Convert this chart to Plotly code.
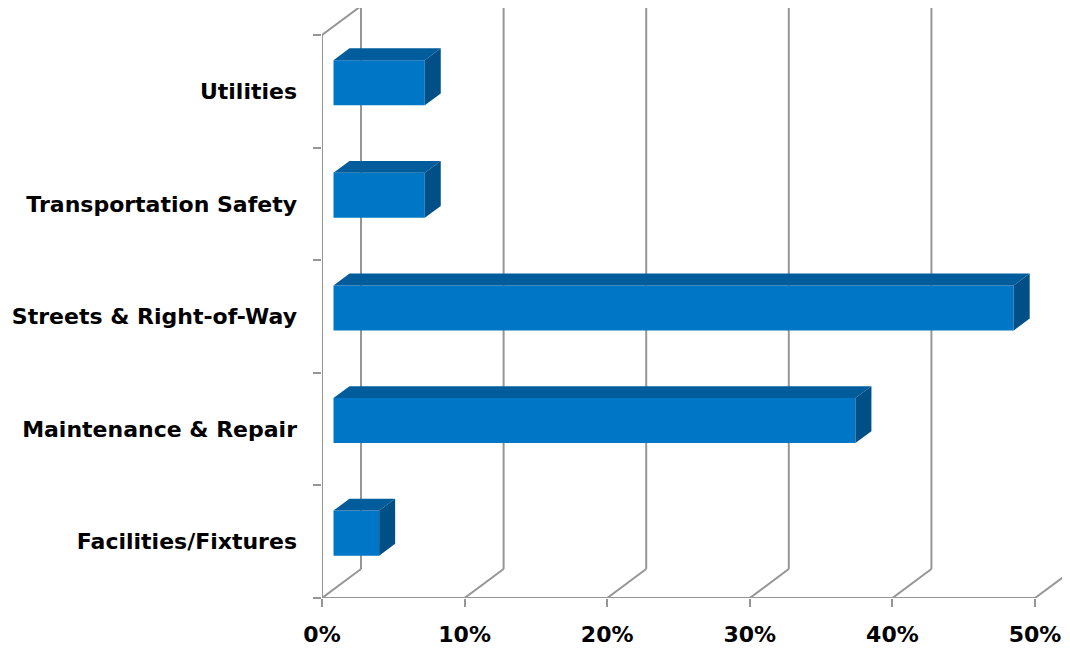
import plotly.graph_objects as go

categories = ["Facilities/Fixtures", "Maintenance & Repair", "Streets & Right-of-Way",
              "Transportation Safety", "Utilities"]
values = [3.2, 36.6, 47.7, 6.4, 6.4]
x_ticks = [0, 10, 20, 30, 40, 50]
x_tick_labels = ["0%", "10%", "20%", "30%", "40%", "50%"]

# geometry of the pseudo-3D projection
PX_PER_X = 14.26
PX_PER_Y = 112.6
DX = 39 / PX_PER_X      # full depth offset in x units
DY = 29 / PX_PER_Y      # full depth offset in y units
F0, F1 = 0.295, 0.705   # bar depth span (front, back)
HALF = 0.2              # half bar thickness

FRONT = "#0077C6"
TOP = "#005C9B"
SIDE = "#004F86"
GRID = "#969696"

fig = go.Figure()

shapes = []
gl = dict(color=GRID, width=2)
n = len(categories)
ytop = n - 0.5
for t in x_ticks:
    shapes.append(dict(type="line", xref="x", yref="y", x0=t, y0=-0.5, x1=t + DX, y1=-0.5 + DY, line=gl, layer="below"))
    shapes.append(dict(type="line", xref="x", yref="y", x0=t + DX, y0=-0.5 + DY, x1=t + DX, y1=ytop + DY, line=gl, layer="below"))
# left wall top diagonal and front value axis
shapes.append(dict(type="line", xref="x", yref="y", x0=0, y0=ytop, x1=DX, y1=ytop + DY, line=gl, layer="below"))
shapes.append(dict(type="line", xref="x", yref="y", x0=0, y0=-0.5, x1=0, y1=ytop, line=gl, layer="below"))
shapes.append(dict(type="line", xref="x", yref="y", x0=0, y0=-0.5, x1=x_ticks[-1], y1=-0.5, line=gl, layer="below"))

ypos = [i + F0 * DY for i in range(n)]
fig.add_trace(go.Bar(orientation="h", y=ypos, x=values, base=F0 * DX, width=2 * HALF,
                     marker=dict(color=FRONT, line=dict(width=0)), showlegend=False,
                     hoverinfo="skip"))

for i, v in enumerate(values):
    x0 = F0 * DX
    x1 = F1 * DX
    yf = i + F0 * DY
    yb = i + F1 * DY
    # top face
    fig.add_trace(go.Scatter(
        x=[x0, x0 + v, x1 + v, x1, x0],
        y=[yf + HALF, yf + HALF, yb + HALF, yb + HALF, yf + HALF],
        fill="toself", fillcolor=TOP, mode="lines", line=dict(width=0, color=TOP),
        showlegend=False, hoverinfo="skip"))
    # side face
    fig.add_trace(go.Scatter(
        x=[x0 + v, x0 + v, x1 + v, x1 + v, x0 + v],
        y=[yf - HALF, yf + HALF, yb + HALF, yb - HALF, yf - HALF],
        fill="toself", fillcolor=SIDE, mode="lines", line=dict(width=0, color=SIDE),
        showlegend=False, hoverinfo="skip"))

# page body has an 8px margin, so the figure is drawn 8px right/down
W, H = 1062, 646
ml, mb = 314, 56
fig.update_layout(
    width=W, height=H,
    margin=dict(l=ml, r=0, t=0, b=mb, autoexpand=False),
    plot_bgcolor="white", paper_bgcolor="white",
    shapes=shapes,
    showlegend=False,
    xaxis=dict(range=[0, (W - ml) / PX_PER_X], showgrid=False, zeroline=False, showline=False,
               automargin=False,
               tickvals=x_ticks, ticktext=x_tick_labels, ticks="outside", ticklen=8,
               tickwidth=2, tickcolor=GRID, ticklabelstandoff=9,
               tickfont=dict(family="DejaVu Sans", size=22, color="black", weight="bold")),
    yaxis=dict(range=[-0.5, -0.5 + (H - mb) / PX_PER_Y], showgrid=False, zeroline=False,
               showline=False, automargin=False,
               tickvals=list(range(n)), ticktext=categories, ticks="",
               ticklabelstandoff=24,
               minor=dict(tickvals=[k - 0.5 for k in range(n + 1)], ticks="outside",
                          ticklen=8, tickwidth=2, tickcolor=GRID),
               tickfont=dict(family="DejaVu Sans", size=22, color="black", weight="bold")),
)

fig.write_html("out.html")
